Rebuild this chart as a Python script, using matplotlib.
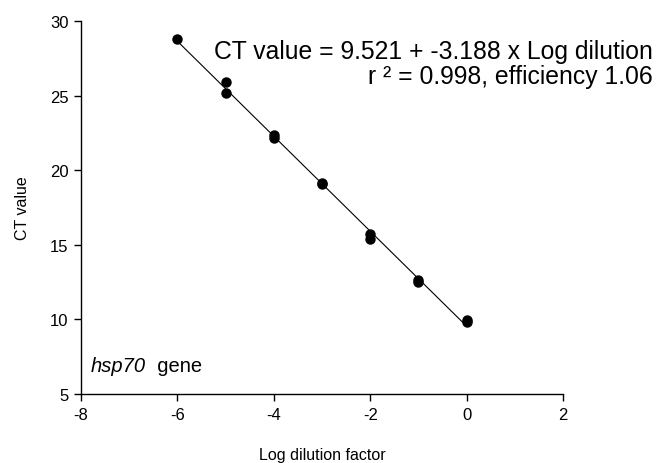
import numpy as np
import matplotlib
matplotlib.use("Agg")
import matplotlib.pyplot as plt

plt.rcParams['font.family'] = ['Liberation Sans', 'DejaVu Sans']

log_dilution = [-6, -5, -5, -4, -4, -3, -3, -2, -2, -1, -1, 0, 0]
ct_values = [28.8, 25.9, 25.2, 22.35, 22.15, 19.15, 19.1, 15.7, 15.4, 12.65, 12.5, 9.95, 9.85]
x_ticks = [-8, -6, -4, -2, 0, 2]
y_ticks = [5, 10, 15, 20, 25, 30]

fig = plt.figure(figsize=(6.58, 4.64), dpi=100)
ax = fig.add_axes([0.1231, 0.1487, 0.8556 - 0.1231, 0.9526 - 0.1487])

slope, intercept = np.polyfit(log_dilution, ct_values, 1)
xl = np.array([min(log_dilution), max(log_dilution)])
ax.plot(xl, intercept + slope * xl, color='black', lw=0.8, zorder=2)
ax.plot(log_dilution, ct_values, 'o', color='black', ms=6.5, zorder=3)

ax.set_xlim(-8, 2)
ax.set_ylim(5, 30)
ax.set_xticks(x_ticks)
ax.set_yticks(y_ticks)
ax.set_xticklabels([str(t) for t in x_ticks])
ax.spines['top'].set_visible(False)
ax.spines['right'].set_visible(False)
for s in ['left', 'bottom']:
    ax.spines[s].set_linewidth(1.0)
ax.tick_params(direction='out', length=5, width=1.0, labelsize=12, pad=4)

ax.set_xlabel('Log dilution factor', fontsize=11.5, labelpad=18)
ax.set_ylabel('CT value', fontsize=11.5, labelpad=14)

fig.text(653/658, 1 - 59/464, 'CT value = 9.521 + -3.188 x Log dilution',
         ha='right', va='baseline', fontsize=17.8)
fig.text(653/658, 1 - 84/464, 'r \u00b2 = 0.998, efficiency 1.06',
         ha='right', va='baseline', fontsize=17.8)

t1 = ax.text(-7.79, 6.54, 'hsp70', fontsize=14.5, style='italic', va='baseline', ha='left')
fig.canvas.draw()
bb = t1.get_window_extent()
inv = ax.transData.inverted()
xend = inv.transform((bb.x1, bb.y0))[0]
ax.text(xend, 6.54, '  gene', fontsize=14.5, va='baseline', ha='left')

fig.savefig('out.png', dpi=100)
